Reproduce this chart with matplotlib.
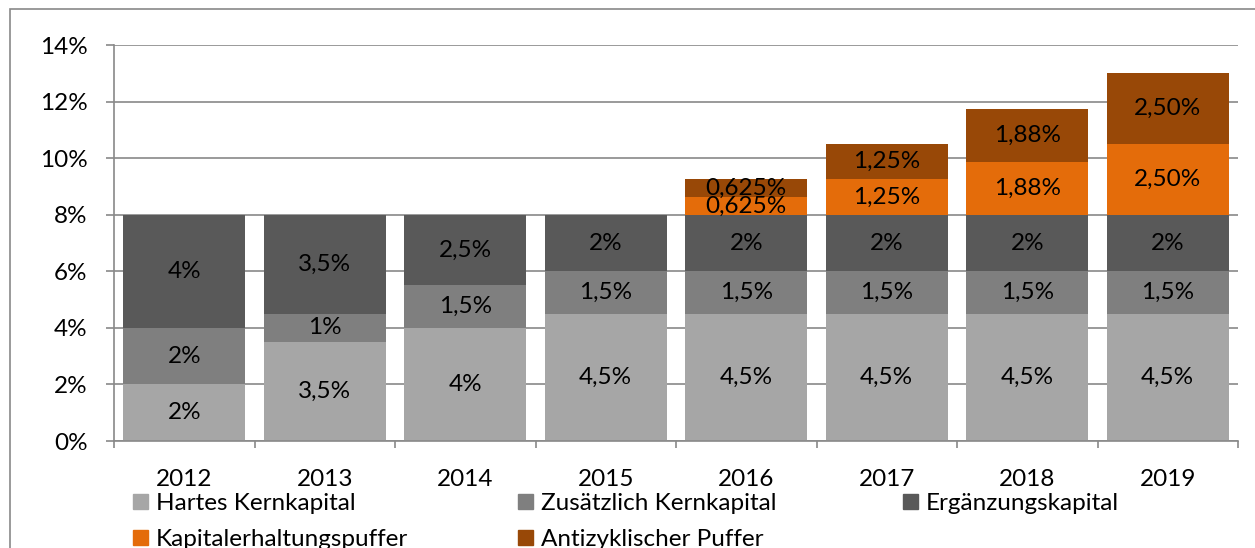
import numpy as np
import matplotlib.pyplot as plt
from matplotlib.patches import Rectangle, Patch

plt.rcParams['font.family'] = ['Lato', 'DejaVu Sans']

years = ['2012', '2013', '2014', '2015', '2016', '2017', '2018', '2019']
hartes = [2, 3.5, 4, 4.5, 4.5, 4.5, 4.5, 4.5]
zusatz = [2, 1, 1.5, 1.5, 1.5, 1.5, 1.5, 1.5]
ergaenz = [4, 3.5, 2.5, 2, 2, 2, 2, 2]
kapital = [0, 0, 0, 0, 0.625, 1.25, 1.875, 2.5]
anti = [0, 0, 0, 0, 0.625, 1.25, 1.875, 2.5]

hartes_lab = ['2%', '3,5%', '4%', '4,5%', '4,5%', '4,5%', '4,5%', '4,5%']
zusatz_lab = ['2%', '1%', '1,5%', '1,5%', '1,5%', '1,5%', '1,5%', '1,5%']
ergaenz_lab = ['4%', '3,5%', '2,5%', '2%', '2%', '2%', '2%', '2%']
kapital_lab = ['', '', '', '', '0,625%', '1,25%', '1,88%', '2,50%']
anti_lab = ['', '', '', '', '0,625%', '1,25%', '1,88%', '2,50%']

series = [
    ('Hartes Kernkapital', hartes, hartes_lab, '#A6A6A6'),
    ('Zusätzlich Kernkapital', zusatz, zusatz_lab, '#7F7F7F'),
    ('Ergänzungskapital', ergaenz, ergaenz_lab, '#595959'),
    ('Kapitalerhaltungspuffer', kapital, kapital_lab, '#E46C0A'),
    ('Antizyklischer Puffer', anti, anti_lab, '#984807'),
]

W, H = 1255, 548
fig = plt.figure(figsize=(W / 100, H / 100), dpi=100)
ax = fig.add_axes([114 / W, 1 - 441 / H, (1238 - 114) / W, (441 - 45) / H])

grid_c = '#898989'
fs = 17.5

x = np.arange(len(years))
bottom = np.zeros(len(years))
for name, vals, labs, col in series:
    bars = ax.bar(x, vals, 0.87, bottom=bottom, color=col, label=name, zorder=2)
    ax.bar_label(bars, labels=labs, label_type='center', fontsize=fs, color='black')
    bottom += np.array(vals)

ax.set_xlim(-0.5, len(years) - 0.5)
ax.set_ylim(0, 14)
ax.set_yticks(np.arange(0, 15, 2))
ax.set_yticklabels([f'{v}%' for v in range(0, 15, 2)], fontsize=fs)
ax.set_xticks(x)
ax.set_xticklabels(years, fontsize=fs)
ax.set_xticks(np.arange(-0.5, len(years), 1), minor=True)
ax.tick_params(axis='x', which='major', length=0, pad=20)
ax.tick_params(axis='x', which='minor', length=5, color=grid_c, width=1.2)
ax.tick_params(axis='y', length=6, color=grid_c, width=1.2, pad=13)
ax.yaxis.grid(True, color=grid_c, lw=1.2, zorder=0)
ax.set_axisbelow(True)
for s in ['top', 'right']:
    ax.spines[s].set_visible(False)
for s in ['left', 'bottom']:
    ax.spines[s].set_color(grid_c)
    ax.spines[s].set_linewidth(1.2)

# legend in three columns placed like the original
handles = [Patch(color=c) for _, _, _, c in series]
names = [n for n, _, _, _ in series]
cols = [([0, 3], 133), ([1, 4], 518), ([2], 903)]
for idx, xpx in cols:
    fig.legend([handles[i] for i in idx], [names[i] for i in idx],
               loc='upper left', bbox_to_anchor=(xpx / W, 1 - 493 / H),
               frameon=False, fontsize=fs, handlelength=0.6, handleheight=0.6,
               handletextpad=0.35, labelspacing=0.62, borderaxespad=0, borderpad=0)

fig.patches.append(Rectangle((10 / W, -0.1), 1.2, 1 - 9 / H + 0.1, transform=fig.transFigure,
                             fill=False, edgecolor=grid_c, lw=1.2))

fig.savefig('out.png', dpi=100)
